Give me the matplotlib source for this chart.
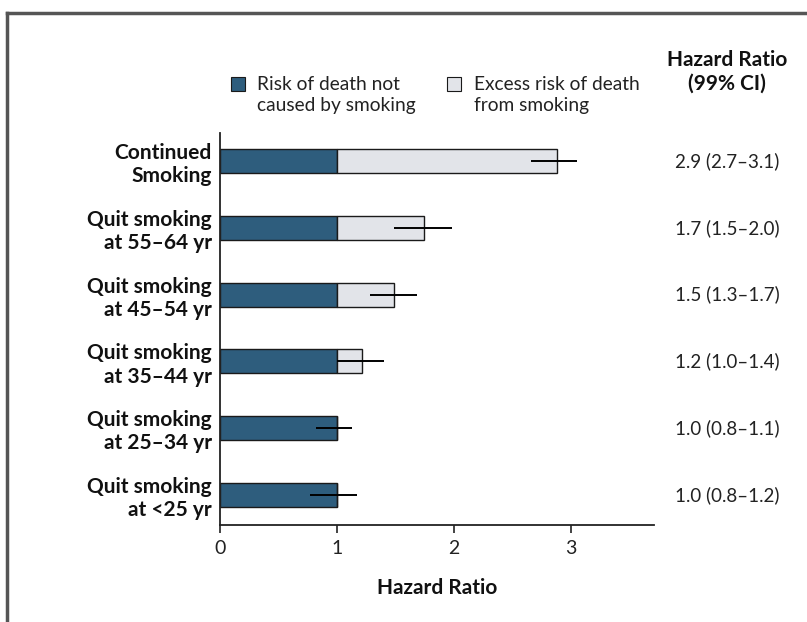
import matplotlib
matplotlib.use("Agg")
import matplotlib.pyplot as plt
import matplotlib.transforms as mtransforms
from matplotlib.lines import Line2D
from matplotlib.patches import Rectangle

categories = ["Continued\nSmoking", "Quit smoking\nat 55\u201364 yr", "Quit smoking\nat 45\u201354 yr",
              "Quit smoking\nat 35\u201344 yr", "Quit smoking\nat 25\u201334 yr", "Quit smoking\nat <25 yr"]
hazard = [2.88, 1.74, 1.49, 1.21, 1.0, 1.0]
ci_low = [2.66, 1.49, 1.28, 1.0, 0.82, 0.77]
ci_high = [3.05, 1.98, 1.68, 1.40, 1.13, 1.17]
baseline = [1.0, 1.0, 1.0, 1.0, 1.0, 1.0]
hr_labels = ["2.9 (2.7\u20133.1)", "1.7 (1.5\u20132.0)", "1.5 (1.3\u20131.7)",
             "1.2 (1.0\u20131.4)", "1.0 (0.8\u20131.1)", "1.0 (0.8\u20131.2)"]
xticks = [0, 1, 2, 3]

FONT = ["Lato", "DejaVu Sans"]
plt.rcParams['font.family'] = FONT

dark = "#2e5d7d"
light = "#e2e4e9"

fig = plt.figure(figsize=(8.07, 6.22), dpi=100)
W, H = 807, 622
ax = fig.add_axes([220 / W, 1 - 525 / H, (654 - 220) / W, (525 - 133) / H])

n = len(categories)
ypos = [n - 1 - i for i in range(n)]
bh = 0.36
excess = [max(h - b, 0) for h, b in zip(hazard, baseline)]
ax.barh(ypos, baseline, height=bh, color=dark, edgecolor="#1a1a1a", linewidth=1.0, zorder=2)
ax.barh(ypos, excess, left=baseline, height=bh, color=light, edgecolor="#1a1a1a", linewidth=1.0, zorder=2)
for y, lo, hi in zip(ypos, ci_low, ci_high):
    ax.plot([lo, hi], [y, y], color="black", lw=1.4, zorder=3, solid_capstyle="butt")

ax.set_xlim(0, 3.71)
ax.set_ylim(-0.45, n - 1 + 0.42)
ax.set_xticks(xticks)
ax.set_xticklabels([str(t) for t in xticks], fontsize=14, color="#222222")
ax.tick_params(axis="x", length=6, width=1.2, direction="out", pad=5, color="#222222")
ax.set_yticks(ypos)
ax.set_yticklabels(categories, fontsize=15, fontweight="bold", color="#111111",
                   linespacing=1.2, multialignment="right")
ax.tick_params(axis="y", length=0, pad=6)
for s in ["top", "right"]:
    ax.spines[s].set_visible(False)
for s in ["left", "bottom"]:
    ax.spines[s].set_linewidth(1.3)
    ax.spines[s].set_color("#222222")
ax.set_xlabel("Hazard Ratio", fontsize=15, fontweight="bold", color="#111111", labelpad=15)

# right column
blend = mtransforms.blended_transform_factory(fig.transFigure, ax.transData)
for y, lab in zip(ypos, hr_labels):
    ax.text(727 / W, y, lab, transform=blend, ha="center", va="center", fontsize=13.5, color="#222222")
fig.text(727 / W, 1 - 72 / H, "Hazard Ratio\n(99% CI)", ha="center", va="center",
         fontsize=15, fontweight="bold", color="#111111", linespacing=1.25)

# legend
sq = 14
ysq = 84
fig.patches.append(Rectangle((231 / W, 1 - (ysq + sq / 2) / H), sq / W, sq / H, transform=fig.transFigure,
                             facecolor=dark, edgecolor="#1a1a1a", linewidth=0.8))
fig.text(257 / W, 1 - 95 / H, "Risk of death not\ncaused by smoking", ha="left", va="center",
         fontsize=13.8, color="#222222", linespacing=1.25)
fig.patches.append(Rectangle((447 / W, 1 - (ysq + sq / 2) / H), sq / W, sq / H, transform=fig.transFigure,
                             facecolor=light, edgecolor="#1a1a1a", linewidth=0.8))
fig.text(474 / W, 1 - 95 / H, "Excess risk of death\nfrom smoking", ha="left", va="center",
         fontsize=13.8, color="#222222", linespacing=1.25)

# frame border (left and top)
fig.lines.append(Line2D([7 / W, 7 / W], [0, 1 - 13 / H], transform=fig.transFigure, color="#555555", lw=2.5))
fig.lines.append(Line2D([7 / W, 1], [1 - 13 / H, 1 - 13 / H], transform=fig.transFigure, color="#555555", lw=2.5))

fig.savefig("out.png", dpi=100, facecolor="white")
